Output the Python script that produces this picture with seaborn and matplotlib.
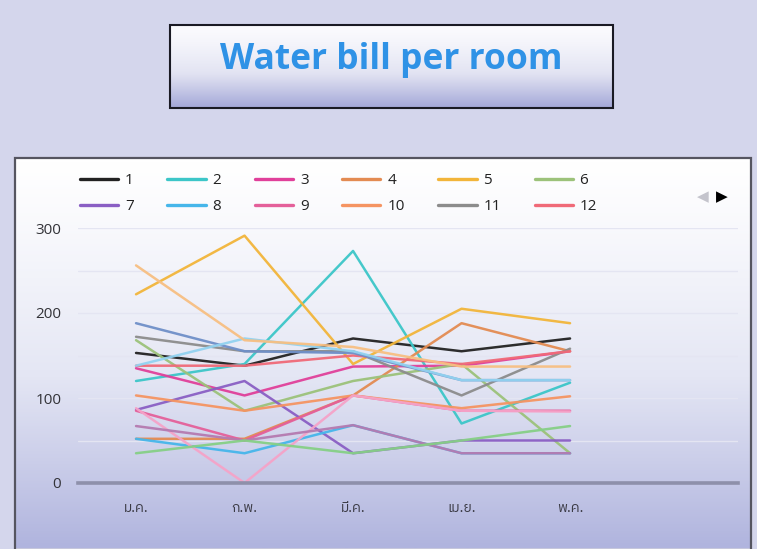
import numpy as np
import pandas as pd
import matplotlib
matplotlib.use("Agg")
import matplotlib.pyplot as plt
from matplotlib import font_manager
from matplotlib.ft2font import FT2Font
from matplotlib.lines import Line2D
from matplotlib.patches import Rectangle
import seaborn as sns

# Monthly water bill (baht) per room, Jan - May
months = ["ม.ค.", "ก.พ.", "มี.ค.", "เม.ย.", "พ.ค."]

room_1 = [153, 138, 170, 155, 170]
room_2 = [120, 140, 273, 70, 118]
room_3 = [135, 103, 137, 138, 155]
room_4 = [52, 52, 103, 188, 155]
room_5 = [222, 291, 140, 205, 188]
room_6 = [168, 85, 120, 140, 35]
room_7 = [86, 120, 35, 50, 50]
room_8 = [52, 35, 68, 35, 35]
room_9 = [85, 50, 103, 85, 85]
room_10 = [103, 85, 103, 88, 102]
room_11 = [172, 155, 155, 103, 158]
room_12 = [138, 138, 150, 140, 155]
room_13 = [188, 155, 153, 121, 121]
room_14 = [138, 170, 155, 121, 121]
room_15 = [256, 168, 160, 137, 137]
room_16 = [88, 0, 103, 85, 84]
room_17 = [67, 50, 68, 35, 35]
room_18 = [35, 50, 35, 50, 67]

rooms = [str(i) for i in range(1, 19)]
room_values = [room_1, room_2, room_3, room_4, room_5, room_6, room_7, room_8,
               room_9, room_10, room_11, room_12, room_13, room_14, room_15,
               room_16, room_17, room_18]
room_colors = ["#222222", "#3cc6c8", "#e0409a", "#e38b52", "#f2b53a", "#9cc27a",
               "#8a5fc4", "#46b6ea", "#e4609a", "#f59462", "#8c8c8c", "#f06a78",
               "#6f8fc8", "#92d2f0", "#f7bf82", "#f5a3c8", "#b57ab0", "#86cf86"]
legend_rooms = rooms[:12]
y_ticks = [0, 100, 200, 300]

df = pd.DataFrame({
    "room": np.repeat(rooms, len(months)),
    "month": months * len(rooms),
    "bill": np.concatenate(room_values),
})
df["pos"] = df["month"].map({m: i for i, m in enumerate(months)})


def thai_family():
    preferred = []
    for f in font_manager.fontManager.ttflist:
        try:
            if 0x0E21 in FT2Font(f.fname).get_charmap():
                preferred.append(f.name)
        except Exception:
            pass
    for name in preferred:
        if "Sans" in name:
            return name
    return preferred[0] if preferred else "DejaVu Sans"


sns.set_theme(style="white")
plt.rcParams["font.family"] = ["Open Sans", "DejaVu Sans"]

W, H = 757, 549
fig = plt.figure(figsize=(W / 100, H / 100), dpi=100)
fig.patch.set_facecolor("#d4d6ec")

# background layer in pixel coordinates
bg = fig.add_axes([0, 0, 1, 1], zorder=0)
bg.set_xlim(0, W)
bg.set_ylim(H, 0)
bg.axis("off")

panel_grad = np.linspace(0, 1, 256).reshape(-1, 1) ** 1.2
panel_cmap = matplotlib.colors.LinearSegmentedColormap.from_list(
    "panel", ["#ffffff", "#e4e6f4", "#b0b4de"])
bg.imshow(panel_grad, cmap=panel_cmap, aspect="auto",
          extent=(15, 751, 548, 158), zorder=1)
bg.add_patch(Rectangle((15, 158), 736, 392, fill=False, ec="#555560", lw=1.6, zorder=2))

title_grad = np.linspace(0, 1, 256).reshape(-1, 1) ** 1.3
title_cmap = matplotlib.colors.LinearSegmentedColormap.from_list(
    "titlebox", ["#fbfbfe", "#e2e3f2", "#a3a7d8"])
bg.imshow(title_grad, cmap=title_cmap, aspect="auto",
          extent=(170, 613, 108, 25), zorder=1)
bg.add_patch(Rectangle((170, 25), 443, 83, fill=False, ec="#1a1a24", lw=1.5, zorder=2))
bg.text(391, 60, "Water bill per room", ha="center", va="center",
        fontsize=25.5, fontweight="bold", color="#2f92e6", zorder=3)

# pager arrows of the legend
bg.text(703, 197, "◀", ha="center", va="center", fontsize=11,
        color="#c4c4cc", family="DejaVu Sans", zorder=3)
bg.text(722, 197, "▶", ha="center", va="center", fontsize=11,
        color="#000000", family="DejaVu Sans", zorder=3)

# main plotting axes
left, right, bottom_px, top_px = 78, 738, 483, 228
ax = fig.add_axes([left / W, (H - bottom_px) / H, (right - left) / W,
                   (bottom_px - top_px) / H], zorder=2)
ax.patch.set_alpha(0)

palette = dict(zip(rooms, room_colors))
sns.lineplot(data=df, x="pos", y="bill", hue="room", palette=palette,
             linewidth=1.8, alpha=0.95, legend=False, ax=ax, sort=False)

ax.set_xlim(-0.535, 5.548)
ax.set_ylim(0, 300)
ax.set_yticks(y_ticks)
ax.set_yticks(np.arange(50, 301, 50), minor=True)
ax.set_xticks(range(len(months)))
ax.set_xticklabels(months, family=[thai_family(), "DejaVu Sans"],
                   fontsize=10, color="#3a3a44")
ax.set_yticklabels([str(v) for v in y_ticks], fontsize=11, color="#333338")
ax.grid(True, which="both", axis="y", color="#e4e5f2", lw=1)
ax.grid(False, axis="x")
ax.set_axisbelow(True)
for s in ["top", "right", "left"]:
    ax.spines[s].set_visible(False)
ax.spines["bottom"].set_color("#8e90aa")
ax.spines["bottom"].set_linewidth(2.6)
ax.tick_params(axis="y", length=0, pad=12, which="both")
ax.tick_params(axis="x", length=0, pad=13)
ax.set_xlabel("")
ax.set_ylabel("")

# legend fills column by column, so interleave the two rows (1-6 over 7-12)
ncol = 6
order = [r * ncol + c for c in range(ncol) for r in range(2)]
handles = [Line2D([0], [0], color=palette[legend_rooms[i]], lw=2.4) for i in order]
labels = [legend_rooms[i] for i in order]
fig.legend(handles, labels, loc="upper left",
           bbox_to_anchor=(80 / W, 1 - 173 / H), bbox_transform=fig.transFigure,
           ncol=ncol, frameon=False, fontsize=11, handlelength=2.5,
           handletextpad=0.45, columnspacing=2.2, labelspacing=0.75,
           borderpad=0, borderaxespad=0, labelcolor="#222222")

fig.savefig("out.png", dpi=100, facecolor=fig.get_facecolor())
